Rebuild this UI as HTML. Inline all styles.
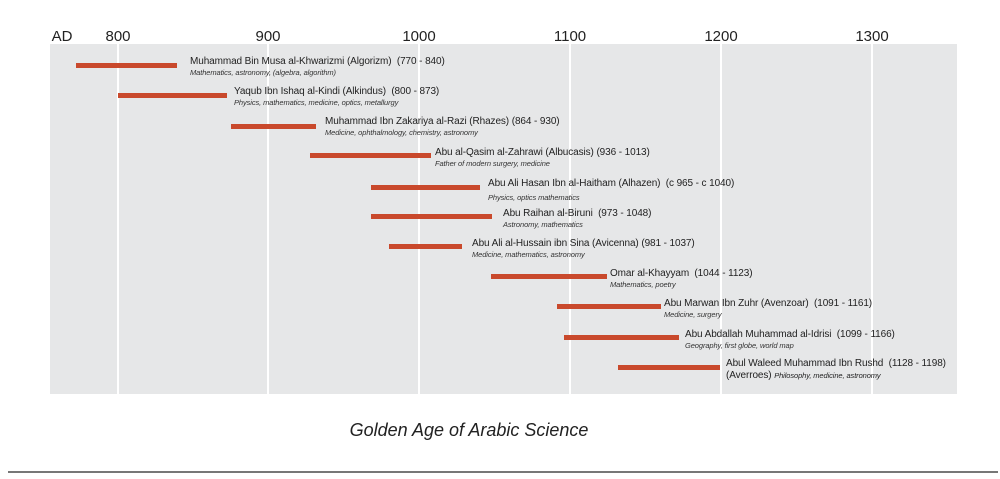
<!DOCTYPE html>
<html><head><meta charset="utf-8"><style>
body{margin:0;width:1000px;height:479px;background:#fff;position:relative;overflow:hidden;font-family:"Liberation Sans",sans-serif;}
.bg{position:absolute;left:50px;top:44px;width:907px;height:350px;background:#e6e7e8;}
.vl{position:absolute;top:44px;height:350px;width:2px;background:#fff;}
.tk{position:absolute;top:28px;font-size:15px;color:#222;transform:translateX(-50%);}
.bar{position:absolute;height:5px;background:#c9492c;}
.t{position:absolute;font-size:10px;color:#222;white-space:nowrap;line-height:12px;letter-spacing:-0.1px;}
.t i{display:block;font-size:7.5px;color:#333;line-height:10px;}
</style></head><body>
<div class="bg"></div>
<div class="vl" style="left:117px"></div><div class="vl" style="left:267px"></div><div class="vl" style="left:418px"></div><div class="vl" style="left:569px"></div><div class="vl" style="left:720px"></div><div class="vl" style="left:871px"></div>
<div class="tk" style="left:62px">AD</div>
<div class="tk" style="left:118px">800</div><div class="tk" style="left:268px">900</div><div class="tk" style="left:419px">1000</div><div class="tk" style="left:570px">1100</div><div class="tk" style="left:721px">1200</div><div class="tk" style="left:872px">1300</div>

<div class="bar" style="left:76px;width:101px;top:63px"></div>
<div class="t" style="left:190px;top:56px">Muhammad Bin Musa al-Khwarizmi (Algorizm) &nbsp;(770 - 840)<i>Mathematics, astronomy, (algebra, algorithm)</i></div>
<div class="bar" style="left:118px;width:109px;top:93px"></div>
<div class="t" style="left:234px;top:86px">Yaqub Ibn Ishaq al-Kindi (Alkindus) &nbsp;(800 - 873)<i>Physics, mathematics, medicine, optics, metallurgy</i></div>
<div class="bar" style="left:231px;width:85px;top:124px"></div>
<div class="t" style="left:325px;top:116px">Muhammad Ibn Zakariya al-Razi (Rhazes) (864 - 930)<i>Medicine, ophthalmology, chemistry, astronomy</i></div>
<div class="bar" style="left:310px;width:121px;top:153px"></div>
<div class="t" style="left:435px;top:147px">Abu al-Qasim al-Zahrawi (Albucasis) (936 - 1013)<i>Father of modern surgery, medicine</i></div>
<div class="bar" style="left:371px;width:109px;top:185px"></div>
<div class="t" style="left:488px;top:178px">Abu Ali Hasan Ibn al-Haitham (Alhazen) &nbsp;(c 965 - c 1040)<i style="margin-top:3px">Physics, optics mathematics</i></div>
<div class="bar" style="left:371px;width:121px;top:214px"></div>
<div class="t" style="left:503px;top:208px">Abu Raihan al-Biruni &nbsp;(973 - 1048)<i>Astronomy, mathematics</i></div>
<div class="bar" style="left:389px;width:73px;top:244px"></div>
<div class="t" style="left:472px;top:238px">Abu Ali al-Hussain ibn Sina (Avicenna) (981 - 1037)<i>Medicine, mathematics, astronomy</i></div>
<div class="bar" style="left:491px;width:116px;top:274px"></div>
<div class="t" style="left:610px;top:268px">Omar al-Khayyam &nbsp;(1044 - 1123)<i>Mathematics, poetry</i></div>
<div class="bar" style="left:557px;width:104px;top:304px"></div>
<div class="t" style="left:664px;top:298px">Abu Marwan Ibn Zuhr (Avenzoar) &nbsp;(1091 - 1161)<i>Medicine, surgery</i></div>
<div class="bar" style="left:564px;width:115px;top:335px"></div>
<div class="t" style="left:685px;top:329px">Abu Abdallah Muhammad al-Idrisi &nbsp;(1099 - 1166)<i>Geography, first globe, world map</i></div>
<div class="bar" style="left:618px;width:102px;top:365px"></div>
<div class="t" style="left:726px;top:358px">Abul Waleed Muhammad Ibn Rushd &nbsp;(1128 - 1198)<br>(Averroes) <span style="font-style:italic;font-size:7.5px">Philosophy, medicine, astronomy</span></div>

<div style="position:absolute;left:0;width:938px;top:420px;text-align:center;font-style:italic;font-size:18px;color:#222">Golden Age of Arabic Science</div>
<div style="position:absolute;left:8px;width:990px;top:471px;height:2px;background:#777"></div>
</body></html>
